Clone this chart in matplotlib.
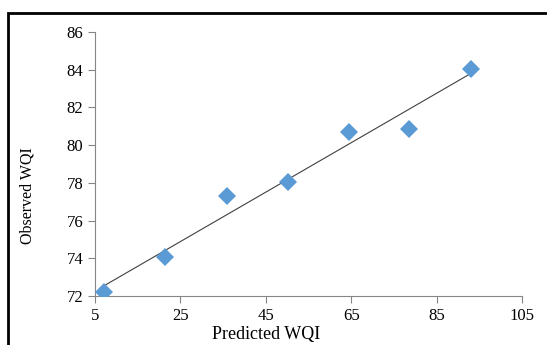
import numpy as np
import matplotlib
matplotlib.use("Agg")
import matplotlib.pyplot as plt
from matplotlib.patches import Rectangle

predicted = [7.1, 21.5, 36.0, 50.2, 64.5, 78.6, 93.0]
observed = [72.23, 74.05, 77.3, 78.07, 80.7, 80.88, 84.03]
xticks = [5, 25, 45, 65, 85, 105]
yticks = [72, 74, 76, 78, 80, 82, 84, 86]

plt.rcParams['font.family'] = ['Liberation Serif', 'DejaVu Serif']

fig = plt.figure(figsize=(5.47, 3.45), dpi=100)
ax = fig.add_axes([95 / 547, 1 - 296 / 345, (522 - 95) / 547, (296 - 32) / 345])

# linear trendline
k, b = np.polyfit(predicted, observed, 1)
xs = np.array([predicted[0], predicted[-1]])
ax.plot(xs, k * xs + b, color='#404040', lw=0.8, zorder=2)

ax.plot(predicted, observed, 'D', color='#5B9BD5', markersize=9.5,
        markeredgewidth=0, zorder=3)

ax.set_xlim(5, 105)
ax.set_ylim(72, 86)
ax.set_xticks(xticks)
ax.set_yticks(yticks)
for s in ['top', 'right']:
    ax.spines[s].set_visible(False)
for s in ['left', 'bottom']:
    ax.spines[s].set_color('#868686')
    ax.spines[s].set_linewidth(0.8)
ax.tick_params(colors='#868686', labelcolor='black', labelsize=12,
               length=5, width=0.8, direction='out')
ax.set_xlabel('Predicted WQI', fontsize=13, va='center', ha='center')
ax.set_ylabel('Observed WQI', fontsize=11.5, va='center', ha='center')
ax.xaxis.set_label_coords(0.40, -0.147)
ax.yaxis.set_label_coords(-0.157, 0.379)

# outer frame (cut off at the right and bottom)
fig.patches.append(Rectangle((8 / 547, -0.2), 1.2, 1.2 - 13 / 345,
                             transform=fig.transFigure, fill=False,
                             edgecolor='black', lw=2))

fig.savefig('out.png', dpi=100)
